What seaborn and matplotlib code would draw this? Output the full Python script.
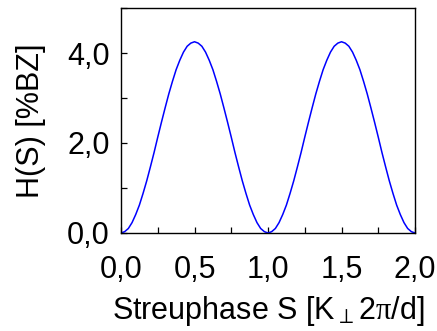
import matplotlib
matplotlib.use("Agg")
import matplotlib.pyplot as plt
import seaborn as sns
import pandas as pd

# Streuphase S in units of K_perp 2pi/d
S = [0.000, 0.025, 0.050, 0.075, 0.100, 0.125, 0.150, 0.175, 0.200, 0.225,
     0.250, 0.275, 0.300, 0.325, 0.350, 0.375, 0.400, 0.425, 0.450, 0.475,
     0.500, 0.525, 0.550, 0.575, 0.600, 0.625, 0.650, 0.675, 0.700, 0.725,
     0.750, 0.775, 0.800, 0.825, 0.850, 0.875, 0.900, 0.925, 0.950, 0.975,
     1.000, 1.025, 1.050, 1.075, 1.100, 1.125, 1.150, 1.175, 1.200, 1.225,
     1.250, 1.275, 1.300, 1.325, 1.350, 1.375, 1.400, 1.425, 1.450, 1.475,
     1.500, 1.525, 1.550, 1.575, 1.600, 1.625, 1.650, 1.675, 1.700, 1.725,
     1.750, 1.775, 1.800, 1.825, 1.850, 1.875, 1.900, 1.925, 1.950, 1.975,
     2.000]

# H(S) in %BZ
H = [0.00, 0.03, 0.10, 0.23, 0.41, 0.62, 0.88, 1.16, 1.47, 1.79,
     2.13, 2.46, 2.78, 3.09, 3.37, 3.63, 3.84, 4.02, 4.15, 4.22,
     4.25, 4.22, 4.15, 4.02, 3.84, 3.63, 3.37, 3.09, 2.78, 2.46,
     2.13, 1.79, 1.47, 1.16, 0.88, 0.62, 0.41, 0.23, 0.10, 0.03,
     0.00, 0.03, 0.10, 0.23, 0.41, 0.62, 0.88, 1.16, 1.47, 1.79,
     2.13, 2.46, 2.78, 3.09, 3.37, 3.63, 3.84, 4.02, 4.15, 4.22,
     4.25, 4.22, 4.15, 4.02, 3.84, 3.63, 3.37, 3.09, 2.78, 2.46,
     2.13, 1.79, 1.47, 1.16, 0.88, 0.62, 0.41, 0.23, 0.10, 0.03,
     0.00]

x_ticklabels = ["0,0", "", "0,5", "", "1,0", "", "1,5", "", "2,0"]
y_ticklabels = ["0,0", "", "2,0", "", "4,0", ""]

sns.set_style("ticks")
plt.rcParams["font.family"] = ["Liberation Sans", "DejaVu Sans"]
plt.rcParams["mathtext.fontset"] = "custom"
plt.rcParams["mathtext.rm"] = "Liberation Serif"
plt.rcParams["mathtext.default"] = "rm"
plt.rcParams["mathtext.fallback"] = "stix"
for key in ("text.color", "axes.labelcolor", "xtick.color", "ytick.color"):
    plt.rcParams[key] = "black"

df = pd.DataFrame({"S": S, "H": H})

fig = plt.figure(figsize=(4.37, 3.31), dpi=100)
ax = fig.add_axes([0.2769, 0.2961, 0.6728, 0.6797])

sns.lineplot(data=df, x="S", y="H", ax=ax, color="#0000ff", linewidth=1.1)

ax.set_xlim(0, 2.0)
ax.set_ylim(0, 5.0)
ax.set_xticks([i * 0.25 for i in range(9)])
ax.set_xticklabels(x_ticklabels)
ax.set_yticks([0, 1, 2, 3, 4, 5])
ax.set_yticklabels(y_ticklabels)

ax.tick_params(direction="in", length=4.5, width=0.9, color="black",
               labelsize=22, labelcolor="black")
ax.tick_params(axis="x", pad=16)
ax.tick_params(axis="y", pad=8)
for sp in ax.spines.values():
    sp.set_visible(True)
    sp.set_color("black")
    sp.set_linewidth(1.0)

ax.set_xlabel("Streuphase S [K$_{\\perp}$2$\\pi$/d]", fontsize=22, labelpad=6)
ax.set_ylabel("H(S) [%BZ]", fontsize=22, labelpad=15)

fig.savefig("out.png", dpi=100)
